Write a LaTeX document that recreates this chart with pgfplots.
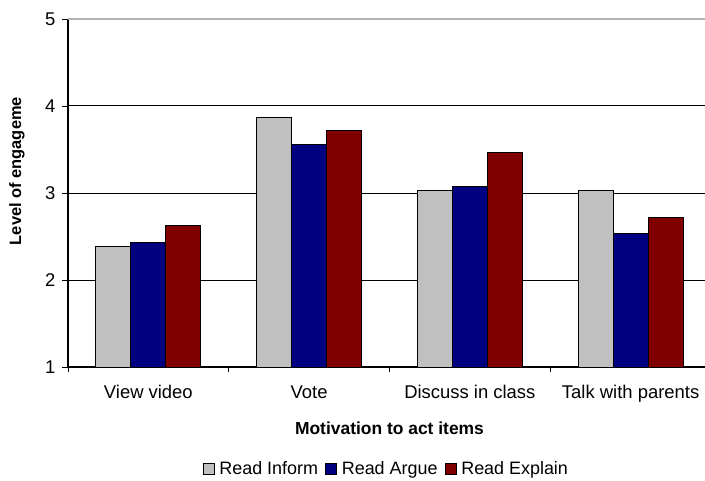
\documentclass[border=0pt]{standalone}
\usepackage{fontspec}
\setmainfont{Liberation Sans}
\usepackage{pgfplots}
\pgfplotsset{compat=1.18}

\definecolor{inform}{HTML}{C0C0C0}
\definecolor{argue}{HTML}{000080}
\definecolor{explain}{HTML}{800000}

\begin{document}
\begin{tikzpicture}
\path[use as bounding box] (-68bp,-114bp) rectangle (637bp,367bp);
\begin{axis}[
    at={(0,0)}, anchor=south west,
    scale only axis,
    width=643bp, height=348bp,
    ybar=0pt, bar width=35bp,
    xmin=-0.5, xmax=3.5,
    ymin=1, ymax=5,
    ytick={1,2,3,4}, extra y ticks={5},
    extra y tick style={grid style={gray!60, line width=1.2bp}},
    xtick={0,1,2,3},
    xticklabels={View video, Vote, Discuss in class, Talk with parents},
    minor xtick={-0.5,0.5,1.5,2.5},
    major x tick style={draw=none},
    tick align=outside,
    major tick length=6bp, minor tick length=5bp,
    tick style={black, line width=0.8bp},
    axis x line*=bottom, axis y line*=left,
    axis line style={-, black, line width=1.1bp},
    ymajorgrids, grid style={black, line width=1bp},
    /pgf/number format/assume math mode=true,
    tick label style={font=\fontsize{18.5}{21}\selectfont},
    xticklabel style={yshift=-9bp},
    yticklabel style={xshift=-3bp},
    xlabel={Motivation to act items},
    ylabel={Level of engageme},
    xlabel style={font=\bfseries\fontsize{17.5}{20}\selectfont, at={(axis description cs:0.5,0)}, anchor=center, yshift=-61bp},
    ylabel style={font=\bfseries\fontsize{16.5}{19}\selectfont, at={(axis description cs:-0.0793,0.563)}, anchor=center},
    legend columns=3,
    legend style={draw=none, at={(axis description cs:0.495,0)}, anchor=center, yshift=-102bp,
        font=\fontsize{18}{21}\selectfont,
        /tikz/every even column/.append style={column sep=5bp},
        /tikz/every odd column/.append style={column sep=3bp}},
    legend image code/.code={\draw[#1, draw=black, line width=0.8bp] (0bp,-5.5bp) rectangle (11bp,5.5bp);},
]
\addplot[fill=inform, draw=black, line width=1bp] coordinates {(0,2.38) (1,3.87) (2,3.03) (3,3.03)};
\addlegendentry{Read Inform}
\addplot[fill=argue, draw=black, line width=1bp] coordinates {(0,2.43) (1,3.56) (2,3.07) (3,2.53)};
\addlegendentry{Read Argue}
\addplot[fill=explain, draw=black, line width=1bp] coordinates {(0,2.63) (1,3.72) (2,3.47) (3,2.72)};
\addlegendentry{Read Explain}
\end{axis}
\end{tikzpicture}
\end{document}
